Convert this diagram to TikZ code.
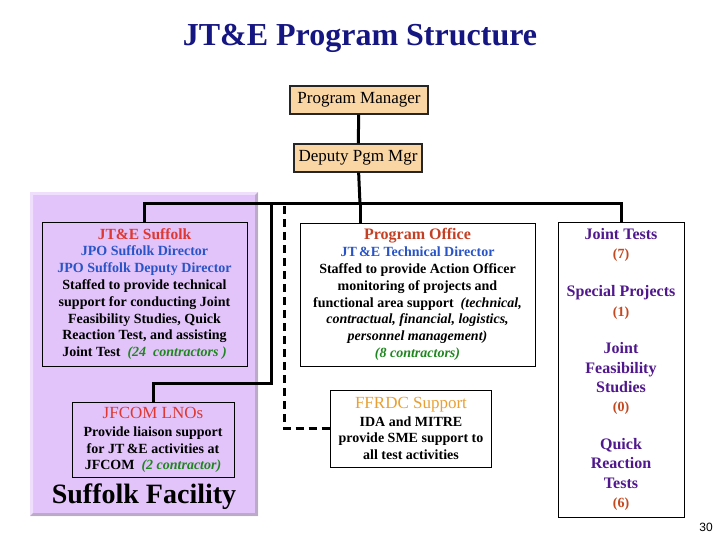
\documentclass[tikz,border=0pt]{standalone}
\usepackage{fontspec}
\setmainfont{Liberation Serif}
\newfontfamily\arialfont{Liberation Sans}
\usetikzlibrary{calc}
\definecolor{title-blue}{RGB}{22,22,130}
\definecolor{head-red}{RGB}{222,56,48}
\definecolor{office-red}{RGB}{196,64,36}
\definecolor{ffrdc-gold}{RGB}{232,160,52}
\definecolor{dir-blue}{RGB}{40,84,200}
\definecolor{count-green}{RGB}{30,134,30}
\definecolor{test-purple}{RGB}{80,24,140}
\definecolor{num-brown}{RGB}{196,72,32}
\definecolor{panel-lilac}{RGB}{226,196,250}
\definecolor{mgr-tan}{RGB}{250,214,164}
\tikzset{
    box/.style = {draw=black, line width=0.8pt, align=center, inner sep=0pt,
        font=\bfseries\fontsize{14}{16.8}\selectfont},
    mgr-box/.style = {draw=black!85, fill=mgr-tan, line width=1.2pt,
        minimum height=28pt, font=\fontsize{17}{19}\selectfont},
    link/.style = {line width=3pt},
    dlink/.style = {line width=3pt, dash pattern=on 8pt off 5pt},
}

\begin{document}
\begin{tikzpicture}[x=1pt,y=-1pt]
    \useasboundingbox (0,0) rectangle (720,540);

    % title
    \node[font=\bfseries\fontsize{32}{36}\selectfont, text=title-blue] (title) at (360,38) {JT\&E Program Structure};

    % Suffolk panel
    \fill[panel-lilac] (30,192) rectangle (258,516);
    \fill[white,opacity=.45] (30,192) -- (258,192) -- (255,195) -- (33,195) -- (33,513) -- (30,516) -- cycle;
    \fill[black!45,opacity=.45] (258,192) -- (258,516) -- (30,516) -- (33,513) -- (255,513) -- (255,195) -- cycle;

    % management chain
    \node[mgr-box, minimum width=138pt] (pm) at (359,100) {Program Manager};
    \node[mgr-box, minimum width=128pt] (deputy) at (358,158) {Deputy Pgm Mgr};

    % boxes
    \node[box, minimum width=205pt, minimum height=144pt] (suffolk) at (144.5,294) {%
        {\fontsize{15.5}{16.8}\selectfont\textcolor{head-red}{JT\&E Suffolk}}\\
        \textcolor{dir-blue}{JPO Suffolk Director}\\
        \textcolor{dir-blue}{JPO Suffolk Deputy Director}\\
        Staffed to provide technical\\
        support for conducting Joint\\
        Feasibility Studies, Quick\\
        Reaction Test, and assisting\\
        Joint Test \ \textcolor{count-green}{\itshape(24 \ contractors )}};

    \node[box, minimum width=162pt, minimum height=75pt] (jfcom) at (153,440) {%
        {\fontsize{17}{16.8}\selectfont\mdseries\textcolor{head-red}{JFCOM LNOs}}\\[1pt]
        Provide liaison support\\
        for JT\,\&E activities at\\
        JFCOM \ \textcolor{count-green}{\itshape(2 contractor)}};

    \node[box, fill=white, minimum width=235pt, minimum height=143pt] (office) at (417.5,294.5) {%
        {\fontsize{16}{16.8}\selectfont\textcolor{office-red}{Program Office}}\\
        \textcolor{dir-blue}{JT\,\&E Technical Director}\\
        Staffed to provide Action Officer\\
        monitoring of projects and\\
        functional area support \ {\itshape(technical,}\\
        {\itshape contractual, financial, logistics,}\\
        {\itshape personnel management)}\\
        \textcolor{count-green}{\itshape(8 contractors)}};

    \node[box, fill=white, minimum width=161pt, minimum height=77pt] (ffrdc) at (411,428.5) {%
        {\fontsize{17}{16.8}\selectfont\mdseries\textcolor{ffrdc-gold}{FFRDC Support}}\\[1pt]
        IDA and MITRE\\
        provide SME support to\\
        all test activities};

    \node[box, fill=white, minimum width=126pt, minimum height=295pt,
          font=\bfseries\fontsize{16}{19.3}\selectfont, text=test-purple] (tests) at (621,369.5) {%
        Joint Tests\\
        \textcolor{num-brown}{\fontsize{14}{19.3}\selectfont(7)}\\[18.5pt]
        Special Projects\\
        \textcolor{num-brown}{\fontsize{14}{19.3}\selectfont(1)}\\[18.5pt]
        Joint\\ Feasibility\\ Studies\\
        \textcolor{num-brown}{\fontsize{14}{19.3}\selectfont(0)}\\[18.5pt]
        Quick\\ Reaction\\ Tests\\
        \textcolor{num-brown}{\fontsize{14}{19.3}\selectfont(6)}};

    \node[font=\bfseries\fontsize{28}{32}\selectfont] (facility) at (144,497) {Suffolk Facility};
    \node[font=\arialfont\fontsize{12}{14}\selectfont] (page-no) at (706,527) {30};

    % connectors
    \coordinate (bus) at (360,204);
    \coordinate (tap) at (271,204);
    \coordinate (dtap) at (284,206);
    \draw[link] (pm) -- (deputy);
    \draw[link] (deputy) -- (bus);
    \draw[link] (suffolk.north) |- (bus) -| (tests.north);
    \draw[link] (bus) -- (bus |- office.north);
    \draw[link] (tap) |- ([yshift=19pt]jfcom.north) -- (jfcom.north);
    \draw[dlink] (dtap) |- (ffrdc.west);
\end{tikzpicture}
\end{document}
